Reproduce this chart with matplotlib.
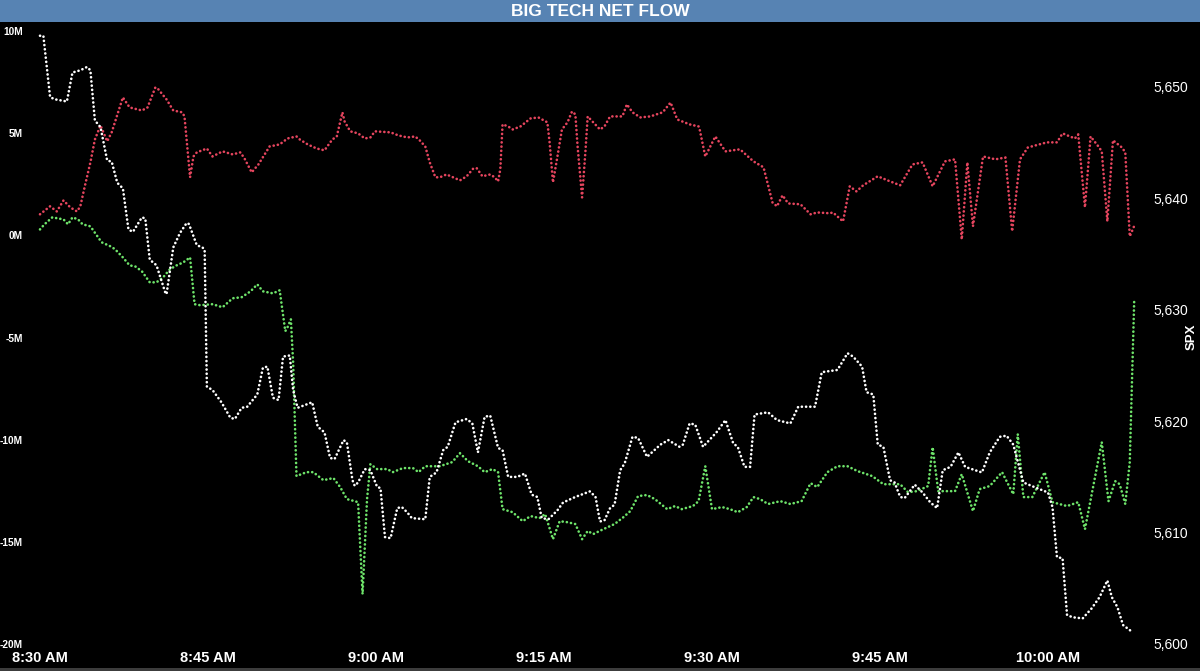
import matplotlib
matplotlib.use("Agg")
import matplotlib.pyplot as plt
from matplotlib.patches import Rectangle
from matplotlib.ticker import FuncFormatter

# minutes after 8:30 AM
spx_t = [0.0, 0.3, 0.9, 1.3, 2.4, 2.9, 3.6, 4.2, 4.5, 4.9, 5.4, 6.0, 6.4, 6.9, 7.4, 7.9, 8.3, 9.1, 9.4,
         9.8, 10.4, 11.2, 11.3, 11.9, 12.5, 13.1, 13.3, 14.0, 14.5, 14.7, 14.9, 15.4, 16.2, 17.0, 17.4,
         18.0, 18.5, 19.4, 19.9, 20.3, 20.8, 21.3, 21.7, 22.3, 22.6, 23.0, 24.3, 24.8, 25.4, 25.9, 26.3,
         27.1, 27.4, 27.9, 28.1, 28.4, 29.0, 29.5, 30.1, 30.4, 30.8, 31.3, 31.9, 32.3, 32.8, 33.2, 34.4,
         34.8, 35.4, 36.0, 36.4, 37.1, 38.1, 38.6, 39.1, 39.7, 40.2, 40.9, 41.3, 41.8, 42.6, 43.3, 43.9,
         44.4, 44.8, 45.4, 46.2, 46.7, 47.8, 49.1, 49.6, 50.0, 50.4, 50.9, 51.3, 51.8, 52.2, 52.9, 53.4,
         54.2, 55.4, 56.1, 57.1, 57.4, 58.0, 58.5, 59.2, 60.4, 61.2, 61.9, 62.3, 62.9, 63.4, 63.8, 65.0,
         65.8, 67.0, 67.7, 69.2, 69.8, 71.2, 72.1, 72.6, 73.4, 73.8, 74.4, 74.8, 75.3, 75.9, 76.3, 76.8,
         77.2, 78.1, 78.8, 79.5, 80.1, 80.6, 81.3, 82.0, 82.6, 84.1, 84.8, 85.7, 86.3, 86.9, 87.8, 89.0,
         90.0, 90.4, 90.8, 91.3, 91.7, 92.2, 93.1, 93.9, 94.6, 95.3, 95.7, 96.2, 96.7, 97.5]
spx = [5654.6, 5654.6, 5649.1, 5648.9, 5648.7, 5651.3, 5651.5, 5651.8, 5651.5, 5647.0, 5646.4, 5643.4,
       5643.3, 5641.4, 5640.9, 5637.2, 5637.0, 5638.3, 5638.2, 5634.5, 5634.0, 5631.5, 5631.4, 5635.6,
       5636.9, 5637.8, 5637.7, 5635.8, 5635.6, 5635.4, 5623.1, 5622.8, 5621.7, 5620.3, 5620.2, 5621.2,
       5621.3, 5622.4, 5624.8, 5624.9, 5622.1, 5621.9, 5625.8, 5625.9, 5622.8, 5621.2, 5621.7, 5619.5,
       5619.0, 5616.7, 5616.6, 5618.3, 5618.1, 5614.7, 5614.2, 5614.5, 5615.7, 5615.6, 5614.1, 5614.0,
       5609.6, 5609.5, 5612.2, 5612.3, 5611.8, 5611.3, 5611.2, 5615.0, 5615.4, 5617.4, 5617.7, 5619.9,
       5620.2, 5619.8, 5617.2, 5620.4, 5620.5, 5617.6, 5617.4, 5615.0, 5615.0, 5615.3, 5613.4, 5613.2,
       5611.3, 5611.2, 5612.0, 5612.7, 5613.2, 5613.7, 5613.2, 5611.0, 5611.1, 5612.2, 5612.5, 5615.6,
       5616.2, 5618.6, 5618.5, 5616.8, 5617.9, 5618.3, 5617.7, 5617.9, 5619.8, 5619.7, 5617.7, 5619.0,
       5620.1, 5618.0, 5617.7, 5615.9, 5615.9, 5620.6, 5620.8, 5620.1, 5619.8, 5621.3, 5621.3, 5624.4,
       5624.6, 5626.1, 5625.8, 5624.9, 5622.6, 5622.4, 5617.9, 5617.7, 5614.7, 5614.5, 5613.2, 5613.1,
       5614.3, 5613.6, 5612.7, 5612.2, 5615.6, 5615.9, 5617.2, 5615.9, 5615.4, 5617.2, 5618.6, 5618.7,
       5617.9, 5614.5, 5614.0, 5613.6, 5612.3, 5607.8, 5607.7, 5602.6, 5602.4, 5602.3, 5603.2, 5604.2,
       5605.7, 5604.2, 5603.3, 5601.7, 5601.1]

# red flow line (millions)
red_t = [0.0, 0.9, 1.5, 2.1, 2.7, 3.3, 3.6, 4.0, 4.5, 4.9, 5.4, 6.0, 6.4, 7.4, 8.0, 9.1, 9.6, 10.3, 10.5,
         11.3, 11.9, 12.7, 12.9, 13.4, 13.7, 14.0, 14.9, 15.4, 16.3, 17.2, 17.9, 18.3, 18.9, 19.5, 20.5,
         21.4, 22.1, 22.9, 23.2, 23.9, 24.7, 25.4, 26.1, 26.5, 27.0, 27.2, 27.7, 28.4, 29.0, 29.5, 29.9,
         31.3, 32.0, 32.8, 33.5, 33.9, 34.4, 34.8, 35.3, 35.7, 36.3, 37.1, 37.5, 38.1, 38.7, 39.0, 39.5,
         40.2, 40.6, 40.9, 41.1, 41.3, 41.8, 42.2, 42.9, 43.8, 44.5, 45.3, 45.5, 45.8, 46.2, 46.6, 47.1,
         47.5, 47.8, 48.0, 48.4, 48.7, 48.9, 49.4, 50.0, 50.4, 50.9, 52.0, 52.4, 52.9, 53.6, 54.5, 55.6,
         56.3, 56.9, 58.0, 58.8, 58.9, 59.4, 60.3, 61.2, 62.5, 63.7, 64.6, 65.4, 65.8, 66.3, 66.8, 67.9,
         68.8, 69.4, 70.5, 70.8, 71.7, 72.3, 72.9, 73.5, 74.8, 75.9, 76.8, 77.9, 78.8, 79.7, 80.8, 81.7,
         82.3, 82.8, 83.3, 84.2, 85.3, 86.2, 86.8, 87.5, 88.2, 89.9, 90.8, 91.3, 92.4, 92.7, 93.3, 93.8,
         94.5, 94.8, 95.3, 95.8, 96.6, 96.9, 97.3, 97.8]
red_flow = [1.03, 1.42, 1.17, 1.71, 1.37, 1.17, 1.42, 2.40, 3.57, 4.69, 5.38, 4.60, 5.04, 6.75, 6.26,
            6.11, 6.26, 7.24, 7.19, 6.65, 6.11, 6.02, 5.82, 2.84, 3.86, 4.06, 4.25, 3.86, 4.11, 3.96,
            4.06, 3.72, 3.08, 3.47, 4.35, 4.45, 4.74, 4.84, 4.69, 4.45, 4.25, 4.16, 4.69, 4.84, 6.02,
            5.57, 5.09, 4.99, 4.74, 4.79, 5.09, 5.04, 4.89, 4.79, 4.84, 4.65, 4.35, 3.57, 2.84, 2.84,
            2.98, 2.79, 2.69, 2.89, 3.28, 3.28, 2.89, 2.98, 2.84, 2.64, 3.23, 5.43, 5.33, 5.18, 5.33,
            5.72, 5.77, 5.53, 4.55, 2.59, 3.86, 5.18, 5.53, 6.06, 5.92, 4.35, 1.86, 4.11, 5.82, 5.53,
            5.18, 5.33, 5.82, 5.82, 6.41, 6.02, 5.77, 5.82, 6.02, 6.50, 5.67, 5.43, 5.33, 5.18, 3.86,
            4.84, 4.11, 4.21, 3.62, 3.33, 1.61, 1.42, 1.96, 1.56, 1.52, 1.03, 1.12, 1.08, 1.12, 0.68,
            2.40, 2.15, 2.45, 2.89, 2.64, 2.45, 3.47, 3.57, 2.40, 3.62, 3.72, -0.20, 3.57, 0.44, 3.86,
            3.72, 3.81, 0.20, 3.72, 4.30, 4.55, 4.55, 4.99, 4.74, 4.94, 1.37, 4.84, 4.35, 4.11, 0.68,
            4.65, 4.30, 4.06, -0.05, 0.59]

# green flow line (millions)
green_t = [0.0, 0.4, 1.1, 1.6, 2.1, 2.5, 2.9, 3.4, 3.8, 4.5, 5.5, 6.3, 6.7, 7.4, 8.0, 8.5, 9.1, 9.8, 10.4,
           11.0, 11.6, 12.2, 12.8, 13.4, 13.8, 14.3, 15.4, 16.3, 17.2, 18.0, 18.8, 19.4, 19.9, 20.8, 21.4,
           21.9, 22.1, 22.4, 22.6, 22.9, 23.8, 24.4, 25.3, 26.2, 26.8, 27.4, 28.1, 28.4, 28.8, 29.2, 29.5,
           30.1, 31.0, 31.5, 32.4, 33.3, 33.8, 34.4, 35.7, 36.8, 37.5, 38.2, 39.1, 39.7, 40.4, 40.9, 41.3,
           42.2, 43.1, 43.8, 44.6, 45.1, 45.8, 46.4, 47.1, 47.8, 48.4, 48.9, 49.4, 50.3, 51.3, 52.1, 52.7,
           53.4, 54.2, 54.9, 56.0, 56.7, 57.3, 58.3, 58.8, 59.4, 60.0, 60.9, 61.6, 62.3, 63.1, 63.7, 64.3,
           65.0, 66.1, 67.0, 68.0, 68.8, 69.4, 70.3, 71.2, 72.1, 73.0, 74.3, 75.3, 76.8, 77.5, 78.3, 79.3,
           79.7, 80.2, 81.7, 82.3, 83.3, 83.9, 84.8, 85.9, 86.3, 86.9, 87.3, 87.8, 88.6, 89.7, 90.4, 91.7,
           92.7, 93.3, 94.8, 95.4, 96.0, 96.4, 96.9, 97.3, 97.7]
green_flow = [0.29, 0.54, 0.88, 0.83, 0.78, 0.54, 0.88, 0.78, 0.54, 0.44, -0.34, -0.54, -0.68, -1.08,
              -1.47, -1.52, -1.76, -2.30, -2.30, -2.05, -1.66, -1.47, -1.32, -1.08, -3.37, -3.42, -3.37,
              -3.52, -3.08, -3.03, -2.74, -2.40, -2.74, -2.84, -2.69, -4.69, -4.50, -4.11, -6.21, -11.78,
              -11.59, -11.59, -11.98, -11.88, -12.32, -12.91, -13.01, -13.06, -17.56, -12.91, -11.20,
              -11.44, -11.44, -11.59, -11.39, -11.39, -11.59, -11.30, -11.30, -11.10, -10.66, -11.05,
              -11.30, -11.59, -11.44, -11.59, -13.40, -13.55, -13.99, -13.74, -13.84, -13.64, -14.87,
              -13.99, -14.04, -14.13, -14.87, -14.47, -14.62, -14.38, -14.13, -13.79, -13.50, -12.76,
              -12.71, -12.91, -13.40, -13.25, -13.40, -13.25, -13.01, -11.30, -13.40, -13.30, -13.40,
              -13.55, -13.30, -12.81, -12.91, -13.15, -13.01, -13.15, -13.01, -12.13, -12.32, -11.59,
              -11.30, -11.30, -11.54, -11.78, -12.18, -12.18, -12.57, -12.52, -12.27, -10.37, -12.52,
              -12.52, -11.69, -13.50, -12.42, -12.27, -11.59, -12.03, -12.67, -9.73, -12.81, -12.81,
              -11.59, -13.06, -13.25, -13.06, -14.38, -10.12, -13.01, -12.03, -12.18, -13.15, -11.10,
              -3.13]

time_ticks = [0, 15, 30, 45, 60, 75, 90]
time_labels = ["8:30 AM", "8:45 AM", "9:00 AM", "9:15 AM", "9:30 AM", "9:45 AM", "10:00 AM"]
flow_ticks = [10, 5, 0, -5, -10, -15, -20]
spx_ticks = [5600, 5610, 5620, 5630, 5640, 5650]

plt.rcParams["font.family"] = ["Liberation Sans", "DejaVu Sans"]

W, H = 1200, 671
fig = plt.figure(figsize=(W / 100, H / 100), dpi=100, facecolor="black")

# title bar and bottom strip
fig.patches.append(Rectangle((0, 1 - 22 / H), 1, 22 / H, transform=fig.transFigure,
                             facecolor="#5783b3", edgecolor="none", zorder=0))
fig.patches.append(Rectangle((0, 0), 1, 3 / H, transform=fig.transFigure,
                             facecolor="#3c3c3c", edgecolor="none", zorder=0))
fig.text(0.5, 1 - 11 / H, "BIG TECH NET FLOW", color="white", fontsize=12.5,
         fontweight="bold", ha="center", va="center")

ax = fig.add_axes([30 / W, 27 / H, 1110 / W, 613 / H])
ax.set_facecolor("black")
ax2 = ax.twinx()

dots = (0, (0.05, 1.55))
style = dict(lw=1.9, ls=dots, dash_capstyle="round")
ax.plot(red_t, red_flow, color="#e5455e", **style)
ax.plot(green_t, green_flow, color="#6ee36a", **style)
ax2.plot(spx_t, spx, color="white", **style)

ax.set_xlim(-10 / 11.2, 1100 / 11.2)
ax.set_ylim(-20, 10)
ax2.set_ylim(5600, 5600 + 613 / 11.14)

ax.set_xticks(time_ticks)
ax.set_xticklabels(time_labels)
ax.set_yticks(flow_ticks)
ax.yaxis.set_major_formatter(FuncFormatter(lambda v, p: f"{v:.0f}M"))
ax2.set_yticks(spx_ticks)
ax2.yaxis.set_major_formatter(FuncFormatter(lambda v, p: f"{v:,.0f}"))

ax.tick_params(axis="x", length=0, pad=5, colors="white", labelsize=10.5)
ax.tick_params(axis="y", length=0, pad=5, colors="white", labelsize=7.3)
ax2.tick_params(axis="y", length=0, pad=10, colors="white", labelsize=10)
for lab in ax.get_xticklabels() + ax.get_yticklabels():
    lab.set_fontweight("bold")

for a in (ax, ax2):
    for s in a.spines.values():
        s.set_visible(False)

fig.text(1192 / W, 1 - 337 / H, "SPX", color="white", fontsize=9.5, fontweight="bold",
         rotation=90, ha="center", va="center")

fig.savefig("out.png", dpi=100, facecolor="black")
